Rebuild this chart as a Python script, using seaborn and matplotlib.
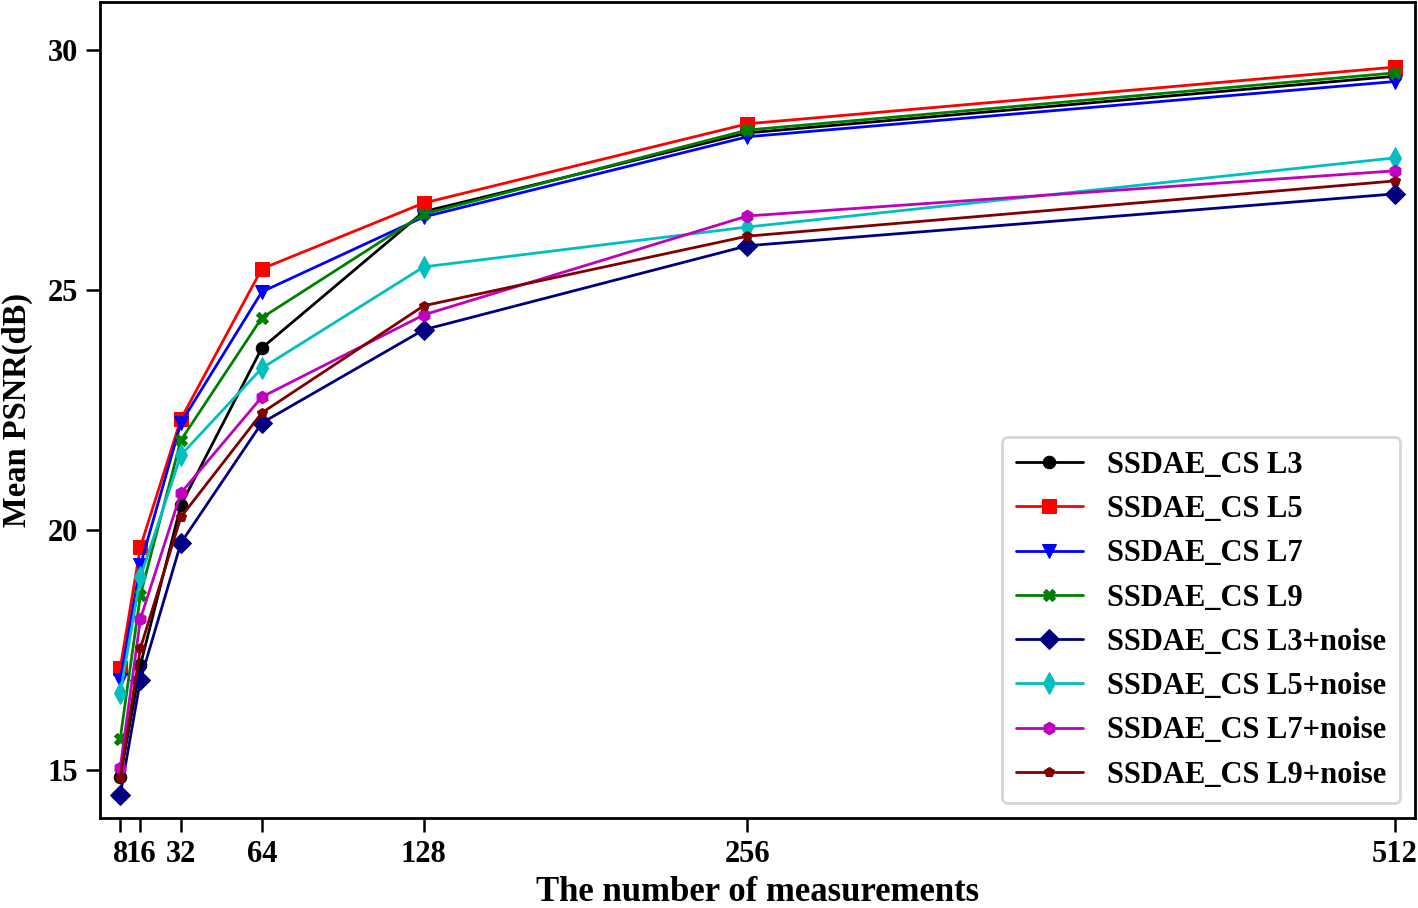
import matplotlib
matplotlib.use("Agg")
import matplotlib.pyplot as plt
import pandas as pd
import seaborn as sns

measurements = [8, 16, 32, 64, 128, 256, 512]

psnr_l3 = [14.85, 17.19, 20.52, 23.79, 26.63, 28.27, 29.45]
psnr_l5 = [17.12, 19.65, 22.31, 25.44, 26.81, 28.46, 29.64]
psnr_l7 = [16.87, 19.27, 22.23, 24.96, 26.52, 28.19, 29.34]
psnr_l9 = [15.65, 18.65, 21.87, 24.42, 26.58, 28.33, 29.52]
psnr_l3_noise = [14.48, 16.88, 19.73, 22.23, 24.17, 25.92, 27.00]
psnr_l5_noise = [16.60, 19.02, 21.56, 23.37, 25.48, 26.31, 27.75]
psnr_l7_noise = [15.04, 18.15, 20.77, 22.77, 24.48, 26.54, 27.48]
psnr_l9_noise = [14.83, 17.54, 20.27, 22.44, 24.67, 26.12, 27.27]

labels = ["SSDAE_CS L3", "SSDAE_CS L5", "SSDAE_CS L7", "SSDAE_CS L9",
          "SSDAE_CS L3+noise", "SSDAE_CS L5+noise", "SSDAE_CS L7+noise", "SSDAE_CS L9+noise"]
series = [psnr_l3, psnr_l5, psnr_l7, psnr_l9,
          psnr_l3_noise, psnr_l5_noise, psnr_l7_noise, psnr_l9_noise]
colors = ["black", "red", "blue", "green", "navy", "#00bfbf", "#bf00bf", "maroon"]
markers = ["o", "s", "v", "X", "D", "d", "h", "p"]
sizes = [9, 10, 10, 8, 10, 11, 9, 7]

df = pd.DataFrame(
    [(m, v, lab) for lab, vals in zip(labels, series) for m, v in zip(measurements, vals)],
    columns=["measurements", "psnr", "method"],
)

sns.set_style("ticks")
plt.rcParams["font.family"] = ["Liberation Serif", "DejaVu Serif"]
plt.rcParams["font.weight"] = "bold"
plt.rcParams["text.color"] = "black"
plt.rcParams["axes.labelcolor"] = "black"
plt.rcParams["xtick.color"] = "black"
plt.rcParams["ytick.color"] = "black"
plt.rcParams["axes.edgecolor"] = "black"

fig = plt.figure(figsize=(14.18, 9.08), dpi=100)
ax = fig.add_axes([0.0705, 0.099, 0.9275, 0.899])

for lab, col, mk, ms in zip(labels, colors, markers, sizes):
    sns.lineplot(data=df[df["method"] == lab], x="measurements", y="psnr",
                 color=col, marker=mk, markersize=ms, markeredgecolor=col,
                 linewidth=2, label=lab, ax=ax)

ax.set_xlim(0, 520)
ax.set_ylim(14, 31)
ax.set_xticks(measurements)
ax.set_xticklabels([str(m) for m in measurements])
ax.set_yticks([15, 20, 25, 30])
ax.tick_params(axis="both", labelsize=22, length=10, width=1.8, direction="out", pad=6)
for t in ax.get_xticklabels() + ax.get_yticklabels():
    t.set_fontweight("bold")
for s in ax.spines.values():
    s.set_linewidth(2)
    s.set_visible(True)

ax.set_xlabel("The number of measurements", fontsize=25, fontweight="bold", labelpad=5)
ax.set_ylabel("Mean PSNR(dB)", fontsize=23.5, fontweight="bold", labelpad=10)

leg = ax.legend(loc="lower right", fontsize=22, handlelength=2.2, borderpad=0.45,
                labelspacing=0.5, frameon=True, borderaxespad=0,
                bbox_to_anchor=(0.9886, 0.018))
leg.get_frame().set_edgecolor("#cccccc")
leg.get_frame().set_linewidth(2)
for t in leg.get_texts():
    t.set_fontweight("bold")

fig.savefig("out.png", dpi=100)
